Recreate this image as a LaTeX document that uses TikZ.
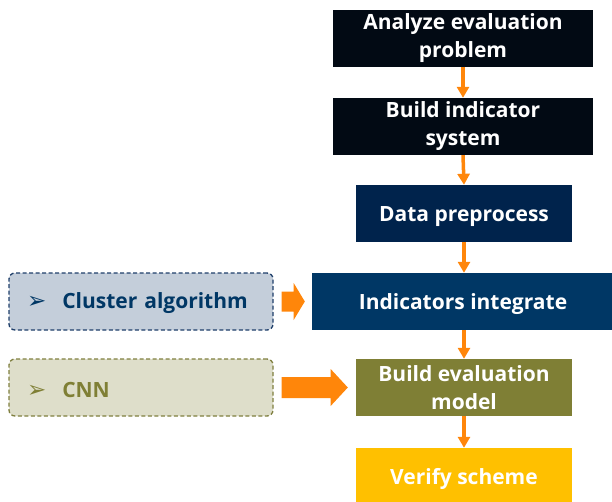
\documentclass[tikz,border=0pt]{standalone}
\usepackage{fontspec}
\setmainfont{Open Sans}
\newfontfamily\symfont{DejaVu Sans}
\usetikzlibrary{calc,arrows.meta}

\definecolor{boxblack}{HTML}{020A14}
\definecolor{navydark}{HTML}{00234C}
\definecolor{navy}{HTML}{003765}
\definecolor{olive}{HTML}{7F7F35}
\definecolor{gold}{HTML}{FFC000}
\definecolor{flow}{HTML}{FF860A}
\definecolor{clfill}{HTML}{C4CEDA}
\definecolor{clline}{HTML}{1F3F6A}
\definecolor{cnnfill}{HTML}{DEDECA}
\definecolor{cnnline}{HTML}{7F7F3F}

% a taller first line pushes the text block slightly down in its box
\newcommand{\toproom}{\rule{0pt}{21.5pt}}

\tikzset{
  x=1pt, y=1pt,
  stepbox/.style={minimum height=57pt, inner sep=0pt, align=center,
    text=white, font=\fontsize{21}{28}\selectfont\bfseries,
    execute at begin node=\toproom},
  sidebox/.style={rounded corners=6pt, dashed, line width=1.3pt,
    dash pattern=on 4pt off 2.5pt, minimum width=264pt, minimum height=57pt,
    inner xsep=18pt, inner ysep=0pt, text width=228pt, align=left,
    font=\fontsize{21}{24}\selectfont\bfseries,
    execute at begin node=\rule{0pt}{20pt}},
  flowarrow/.style={draw=flow, line width=3.5pt,
    -{Triangle[length=11pt, width=12pt]}},
  bigarrow/.style={fill=flow},
}
\newcommand{\bul}{{\symfont\fontsize{23}{23}\selectfont ➢}\hspace{16pt}}

\begin{document}
\begin{tikzpicture}
\useasboundingbox (0,0) rectangle (612,-502);

% main process column
\node[stepbox, fill=boxblack, minimum width=260pt] (a) at (463,-38.5)
  {Analyze evaluation\\problem};
\node[stepbox, fill=boxblack, minimum width=260pt] (b) at (463,-126.5)
  {Build indicator\\system};
\node[stepbox, fill=navydark, minimum width=216pt] (c) at (464,-213.5)
  {Data preprocess};
\node[stepbox, fill=navy, minimum width=302pt] (d) at (463,-301.5)
  {Indicators integrate};
\node[stepbox, fill=olive, minimum width=216pt] (e) at (464,-387.5)
  {Build evaluation\\model};
\node[stepbox, fill=gold, minimum width=216pt] (f) at (464,-476.5)
  {Verify scheme};

% supporting methods
\node[sidebox, draw=clline, fill=clfill, text=navy] (cl) at (141,-301.5)
  {\bul Cluster algorithm};
\node[sidebox, draw=cnnline, fill=cnnfill, text=olive] (cnn) at (141,-387.5)
  {\bul CNN};

% flow between steps
\draw[flowarrow] (a.south) -- (b.north);
\draw[flowarrow] (b.south) -- (c.north);
\draw[flowarrow] (c.south) -- (c.south |- d.north);
\draw[flowarrow] (c.south |- d.south) -- (e.north);
\draw[flowarrow] (e.south) -- (f.north);

% block arrows from the side methods
\fill[bigarrow] ($(cl.east)+(8,10)$) -- ($(cl.east)+(20,10)$)
  -- ($(cl.east)+(20,18.5)$) -- ($(d.west)+(-7,0)$)
  -- ($(cl.east)+(20,-18.5)$) -- ($(cl.east)+(20,-10)$)
  -- ($(cl.east)+(8,-10)$) -- cycle;
\fill[bigarrow] ($(cnn.east)+(8,10.5)$) -- ($(cnn.east)+(57,10.5)$)
  -- ($(cnn.east)+(57,18.5)$) -- ($(e.west)+(-8,0)$)
  -- ($(cnn.east)+(57,-18.5)$) -- ($(cnn.east)+(57,-10.5)$)
  -- ($(cnn.east)+(8,-10.5)$) -- cycle;
\end{tikzpicture}
\end{document}
